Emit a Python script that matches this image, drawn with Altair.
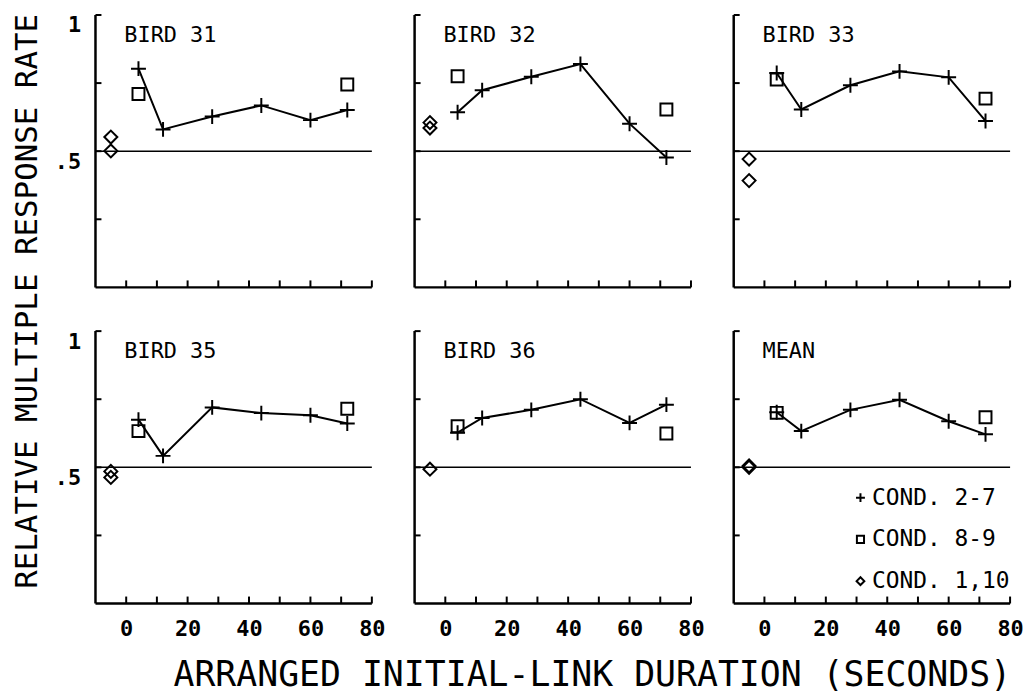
import altair as alt
import pandas as pd

# ---------------- data ----------------
PANELS = ["BIRD 31", "BIRD 32", "BIRD 33", "BIRD 35", "BIRD 36", "MEAN"]
PANEL_ROW = [0, 0, 0, 1, 1, 1]
PANEL_COL = [0, 1, 2, 0, 1, 2]
CONDS = ["COND. 2-7", "COND. 8-9", "COND. 1,10"]

X_MAIN = [4, 12, 28, 44, 60, 72]      # arranged initial-link durations (cond 2-7)
X_SQUARE = [4, 72]                    # cond 8-9
X_DIAMOND = -5                        # cond 1,10 (baseline, plotted left of 0)

PLUS_31 = [0.803, 0.580, 0.627, 0.668, 0.614, 0.651]
PLUS_32 = [0.643, 0.724, 0.773, 0.820, 0.601, 0.477]
PLUS_33 = [0.787, 0.653, 0.742, 0.793, 0.771, 0.611]
PLUS_35 = [0.675, 0.542, 0.720, 0.699, 0.691, 0.661]
PLUS_36 = [0.627, 0.681, 0.711, 0.750, 0.663, 0.730]
PLUS_MEAN = [0.702, 0.633, 0.711, 0.748, 0.669, 0.621]

SQ_31 = [0.710, 0.745]
SQ_32 = [0.775, 0.653]
SQ_33 = [0.763, 0.693]
SQ_35 = [0.633, 0.715]
SQ_36 = [0.651, 0.624]
SQ_MEAN = [0.700, 0.684]

DIA_31 = [0.552, 0.501]
DIA_32 = [0.605, 0.585]
DIA_33 = [0.471, 0.392]
DIA_35 = [0.485, 0.463]
DIA_36 = [0.493]
DIA_MEAN = [0.505, 0.500]

PLUS_ALL = [PLUS_31, PLUS_32, PLUS_33, PLUS_35, PLUS_36, PLUS_MEAN]
SQ_ALL = [SQ_31, SQ_32, SQ_33, SQ_35, SQ_36, SQ_MEAN]
DIA_ALL = [DIA_31, DIA_32, DIA_33, DIA_35, DIA_36, DIA_MEAN]

X_TICKS = [0, 10, 20, 30, 40, 50, 60, 70, 80]
X_LABELS = [0, 20, 40, 60, 80]
Y_TICKS = [0.25, 0.5, 0.75, 1]
Y_LABELS = [0.5, 1]
REF_Y = 0.5

X_TITLE = "ARRANGED INITIAL-LINK DURATION (SECONDS)"
Y_TITLE = "RELATIVE MULTIPLE RESPONSE RATE"

# ---------------- table ----------------
rows = []
for i, p in enumerate(PANELS):
    base = dict(panel=p, r=PANEL_ROW[i], c=PANEL_COL[i])
    for x, y in zip(X_MAIN, PLUS_ALL[i]):
        rows.append(dict(base, kind="data", x=x, y=y, cond=CONDS[0]))
    for x, y in zip(X_SQUARE, SQ_ALL[i]):
        rows.append(dict(base, kind="data", x=x, y=y, cond=CONDS[1]))
    for y in DIA_ALL[i]:
        rows.append(dict(base, kind="data", x=X_DIAMOND, y=y, cond=CONDS[2]))
    for t in X_TICKS:
        rows.append(dict(base, kind="xtick", x=t))
    for t in Y_TICKS:
        rows.append(dict(base, kind="ytick", y=t))
    rows.append(dict(base, kind="label", y=REF_Y))
df = pd.DataFrame(rows)

FONT = "DejaVu Sans Mono"
W, H = 278, 274
PLUS_PATH = "M-1,0L1,0M0,-1L0,1"
SQUARE_PATH = "M-0.8,-0.8L0.8,-0.8L0.8,0.8L-0.8,0.8Z"
DIAMOND_PATH = "M-0.87,0L0,-0.87L0.87,0L0,0.87Z"

x_scale = alt.Scale(domain=[-10, 80], nice=False, zero=False)
y_scale = alt.Scale(domain=[0, 1], nice=False, zero=False)

X_AXIS = alt.Axis(values=X_LABELS, labelFlush=False, labelPadding=13,
                  labelFontSize=22, labelFontWeight="bold")
Y_AXIS = alt.Axis(values=Y_LABELS, labelExpr="datum.value == 1 ? '1' : '.5'",
                  labelPadding=13, labelBaseline="top", labelFontSize=22,
                  labelFontWeight="bold")

XENC = alt.X("x:Q", scale=x_scale, title=None, axis=X_AXIS)
YENC = alt.Y("y:Q", scale=y_scale, title=None, axis=Y_AXIS)

frame = alt.Chart().transform_filter(alt.datum.kind == "label")

yline = frame.mark_rule(color="black", strokeWidth=2.5).encode(
    x=alt.value(0), y=alt.value(0), y2=alt.value(H)
)
xline = frame.mark_rule(color="black", strokeWidth=2.5).encode(
    x=alt.value(0), x2=alt.value(W), y=alt.value(H)
)

hline = frame.mark_rule(color="black", strokeWidth=1.6).encode(y=YENC)

yticks = alt.Chart().transform_filter(alt.datum.kind == "ytick").mark_rule(
    color="black", strokeWidth=2
).encode(y=YENC, x=alt.value(0), x2=alt.value(6))

xticks = alt.Chart().transform_filter(alt.datum.kind == "xtick").mark_rule(
    color="black", strokeWidth=2
).encode(x=XENC, y=alt.value(H), y2=alt.value(H - 7))

line = alt.Chart().transform_filter(alt.datum.cond == CONDS[0]).mark_line(
    color="black", strokeWidth=2
).encode(x=XENC, y=YENC)

points = alt.Chart().transform_filter(alt.datum.kind == "data").mark_point(
    filled=False, color="black", strokeWidth=2, opacity=1, size=225
).encode(
    x=XENC,
    y=YENC,
    shape=alt.Shape(
        "cond:N",
        scale=alt.Scale(domain=CONDS, range=[PLUS_PATH, SQUARE_PATH, DIAMOND_PATH]),
        legend=alt.Legend(title=None, orient="none", legendX=758, legendY=474),
    ),
)

label = frame.mark_text(
    font=FONT, fontSize=22, align="left", baseline="middle", color="black"
).encode(
    text="panel:N",
    x=alt.value(29),
    y=alt.value(20),
)

layered = alt.layer(yline, xline, hline, yticks, xticks, line, points, label).properties(
    width=W, height=H
)

chart = layered.facet(
    data=df,
    row=alt.Row(
        "r:O", title=Y_TITLE,
        header=alt.Header(labels=False, titleFont=FONT, titleFontSize=31, titleFontWeight="normal",
                          titleColor="black", titleAnchor="end", titlePadding=0),
    ),
    column=alt.Column(
        "c:O", title=X_TITLE,
        header=alt.Header(labels=False, titleFont=FONT, titleFontSize=35, titleFontWeight="normal",
                          titleColor="black", titleOrient="bottom", titleAnchor="end", titlePadding=9),
    ),
    spacing={"row": 40, "column": 39},
).properties(
    padding={"left": 3, "top": 3, "right": 0, "bottom": 0},
    background="white",
).configure_view(
    stroke=None
).configure_axis(
    domain=False, grid=False, ticks=False, tickSize=0,
    labelFont=FONT, labelColor="black",
).configure_legend(
    labelFont=FONT, labelFontSize=23, labelColor="black", symbolSize=80,
    symbolStrokeColor="black", symbolStrokeWidth=2, symbolFillColor="transparent",
    rowPadding=18, labelOffset=0, padding=0,
)

chart.save("out.html", embed_options={"renderer": "svg", "actions": False})
